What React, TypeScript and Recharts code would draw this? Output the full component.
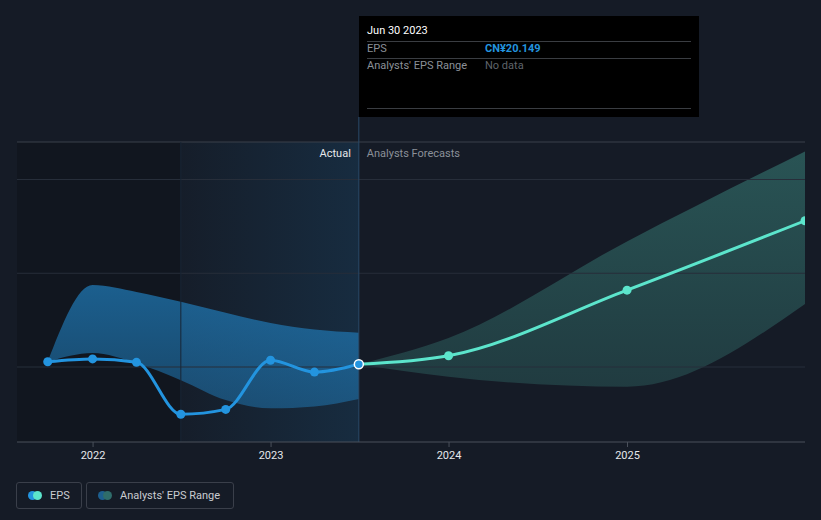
import React from "react";
import {
  ComposedChart,
  Area,
  Line,
  XAxis,
  YAxis,
  ReferenceLine,
  ReferenceArea,
} from "recharts";

// quarterly EPS history (CN¥)
const actualDates = [
  "2021-09-30",
  "2021-12-31",
  "2022-03-31",
  "2022-06-30",
  "2022-09-30",
  "2022-12-31",
  "2023-03-31",
  "2023-06-30",
];
const actualEps = [20.28, 20.43, 20.25, 17.48, 17.74, 20.36, 19.73, 20.149];
const actualLow = [20.28, 20.75, 20.2, 19.3, 18.24, 17.8, 17.9, 18.3];
const actualHigh = [20.28, 24.37, 24.0, 23.48, 22.9, 22.35, 22.0, 21.83];

// analysts forecasts
const forecastDates = ["2023-06-30", "2023-12-31", "2024-12-31", "2025-12-31"];
const forecastEps = [20.149, 20.6, 24.1, 27.8];
const forecastLow = [20.149, 19.48, 18.95, 23.36];
const forecastHigh = [20.149, 21.55, 26.7, 31.5];

const yearTicks = ["2022-01-01", "2023-01-01", "2024-01-01", "2025-01-01"];
const yTicks = [16, 32];
const gridValues = [20, 25, 30];

const BLUE = "#2394df";
const TEAL = "#5ce5cc";
const FONT = "Roboto, 'Noto Sans', sans-serif";

const ts = (d: string) => Date.parse(d);

const actualData = actualDates.map((d, i) => ({
  t: ts(d),
  eps: actualEps[i],
  range: [actualLow[i], actualHigh[i]],
}));

const forecastData = forecastDates.map((d, i) => ({
  t: ts(d),
  eps: forecastEps[i],
  range: [forecastLow[i], forecastHigh[i]],
}));

const X_MIN = ts("2021-07-29");
const X_MAX = ts("2025-12-31");
const TODAY = ts("2023-06-30");
const YEAR_AGO = ts("2022-06-30");

const ActualDot = (props: any) => {
  const { cx, cy, index } = props;
  if (index === actualData.length - 1) {
    return (
      <circle key={`a-${index}`} cx={cx} cy={cy} r={4.5} fill={BLUE} stroke="#fff" strokeWidth={1.5} />
    );
  }
  return <circle key={`a-${index}`} cx={cx} cy={cy} r={4.5} fill={BLUE} stroke="none" />;
};

const ForecastDot = (props: any) => {
  const { cx, cy, index } = props;
  if (index === 0) return <circle key={`f-${index}`} cx={cx} cy={cy} r={0} />;
  return <circle key={`f-${index}`} cx={cx} cy={cy} r={4.5} fill={TEAL} stroke="none" />;
};

const YTick = (props: any) => {
  const { y, payload } = props;
  return (
    <text x={24} y={y - 12} fill="#e6e8eb" fontSize={11} fontFamily={FONT} dominantBaseline="middle">
      {`CN¥${payload.value}`}
    </text>
  );
};

const TodayLine = (props: any) => {
  const top = Math.min(props.y1, props.y2);
  const bottom = Math.max(props.y1, props.y2);
  const x = props.x1;
  return (
    <g>
      <line x1={x} y1={top - 25} x2={x} y2={bottom} stroke="#2a4a68" strokeWidth={1} />
      <text x={x - 8} y={top + 12} textAnchor="end" dominantBaseline="middle" fill="#e6e8eb" fontSize={11} fontFamily={FONT}>
        Actual
      </text>
      <text x={x + 8} y={top + 12} textAnchor="start" dominantBaseline="middle" fill="#8b9098" fontSize={11} fontFamily={FONT}>
        Analysts Forecasts
      </text>
    </g>
  );
};

const LegendItem = ({ label, c1, c2, width }: { label: string; c1: string; c2: string; width: number }) => (
  <div
    style={{
      width,
      height: 27,
      boxSizing: "border-box",
      border: "1px solid #3a3f4a",
      borderRadius: 3,
      display: "flex",
      alignItems: "center",
      paddingLeft: 11,
      marginRight: 4,
      flexShrink: 0,
      whiteSpace: "nowrap",
    }}
  >
    <span style={{ position: "relative", width: 14, height: 9, marginRight: 8, flexShrink: 0 }}>
      <span style={{ position: "absolute", left: 0, top: 0, width: 9, height: 9, borderRadius: 5, background: c1 }} />
      <span style={{ position: "absolute", left: 5, top: 0, width: 9, height: 9, borderRadius: 5, background: c2 }} />
    </span>
    <span style={{ color: "#c9ccd1", fontSize: 11, fontFamily: FONT }}>{label}</span>
  </div>
);

export default function App() {
  return (
    <div
      style={{
        position: "absolute",
        left: 0,
        top: 0,
        width: 821,
        height: 520,
        background: "#151b26",
        overflow: "hidden",
      }}
    >
      <ComposedChart
        width={821}
        height={520}
        margin={{ top: 142, right: 16, bottom: 48, left: 17 }}
      >
        <defs>
          <linearGradient id="pastYear" x1="0" y1="0" x2="1" y2="0">
            <stop offset="0%" stopColor={BLUE} stopOpacity={0.02} />
            <stop offset="100%" stopColor={BLUE} stopOpacity={0.14} />
          </linearGradient>
          <linearGradient id="blueBand" x1="0" y1="0" x2="0" y2="1">
            <stop offset="0%" stopColor={BLUE} stopOpacity={0.58} />
            <stop offset="100%" stopColor={BLUE} stopOpacity={0.38} />
          </linearGradient>
          <linearGradient id="tealBand" x1="0" y1="0" x2="0" y2="1">
            <stop offset="0%" stopColor={TEAL} stopOpacity={0.28} />
            <stop offset="100%" stopColor={TEAL} stopOpacity={0.16} />
          </linearGradient>
        </defs>

        <XAxis
          dataKey="t"
          type="number"
          domain={[X_MIN, X_MAX]}
          allowDataOverflow
          ticks={yearTicks.map(ts)}
          tickFormatter={(v: number) => String(new Date(v).getUTCFullYear())}
          tick={{ fill: "#e6e8eb", fontSize: 11, fontFamily: FONT }}
          axisLine={{ stroke: "#4a505b" }}
          tickLine={{ stroke: "#4a505b" }}
          tickSize={5}
          tickMargin={4}
          height={30}
        />
        <YAxis
          type="number"
          domain={[16, 32]}
          ticks={yTicks}
          mirror
          width={0}
          axisLine={false}
          tickLine={false}
          tick={<YTick />}
        />

        <ReferenceArea x1={X_MIN} x2={YEAR_AGO} y1={16} y2={32} fill="#000" fillOpacity={0.16} stroke="none" />
        <ReferenceArea x1={YEAR_AGO} x2={TODAY} y1={16} y2={32} fill="url(#pastYear)" fillOpacity={1} stroke="none" />

        {gridValues.map((v) => (
          <ReferenceLine key={v} y={v} stroke="#272e3a" strokeWidth={1} />
        ))}
        <ReferenceLine y={32} stroke="#3a404b" strokeWidth={1} />
        <ReferenceLine x={YEAR_AGO} stroke="#192636" strokeWidth={1} />

        <Area
          data={actualData}
          dataKey="range"
          type="monotone"
          stroke="none"
          fill="url(#blueBand)"
          fillOpacity={1}
          isAnimationActive={false}
        />
        <Area
          data={forecastData}
          dataKey="range"
          type="monotone"
          stroke="none"
          fill="url(#tealBand)"
          fillOpacity={1}
          isAnimationActive={false}
        />

        <ReferenceLine x={TODAY} shape={<TodayLine />} />

        <Line
          data={forecastData}
          dataKey="eps"
          type="monotone"
          stroke={TEAL}
          strokeWidth={3}
          dot={ForecastDot}
          activeDot={false}
          isAnimationActive={false}
        />
        <Line
          data={actualData}
          dataKey="eps"
          type="monotone"
          stroke={BLUE}
          strokeWidth={3}
          dot={ActualDot}
          activeDot={false}
          isAnimationActive={false}
        />
      </ComposedChart>

      {/* static tooltip box */}
      <div
        style={{
          position: "absolute",
          left: 359,
          top: 16,
          width: 340,
          height: 101,
          background: "#000",
          fontFamily: FONT,
          fontSize: 11,
        }}
      >
        <div style={{ position: "absolute", left: 8, top: 8, color: "#fff" }}>Jun 30 2023</div>
        <div style={{ position: "absolute", left: 8, top: 25, width: 324, borderTop: "1px solid #3a3d42" }} />
        <div style={{ position: "absolute", left: 8, top: 26, color: "#8b9098" }}>EPS</div>
        <div style={{ position: "absolute", left: 126, top: 26, color: BLUE, fontWeight: 700 }}>CN¥20.149</div>
        <div style={{ position: "absolute", left: 8, top: 42, width: 324, borderTop: "1px solid #3a3d42" }} />
        <div style={{ position: "absolute", left: 8, top: 43, color: "#8b9098" }}>Analysts' EPS Range</div>
        <div style={{ position: "absolute", left: 126, top: 43, color: "#5f646b" }}>No data</div>
        <div style={{ position: "absolute", left: 8, top: 92, width: 324, borderTop: "1px solid #3a3d42" }} />
      </div>

      {/* legend */}
      <div style={{ position: "absolute", left: 16, top: 482, display: "flex" }}>
        <LegendItem label="EPS" c1={BLUE} c2={TEAL} width={66} />
        <LegendItem label="Analysts' EPS Range" c1="#1d5f8f" c2="#2f6d6b" width={148} />
      </div>
    </div>
  );
}
